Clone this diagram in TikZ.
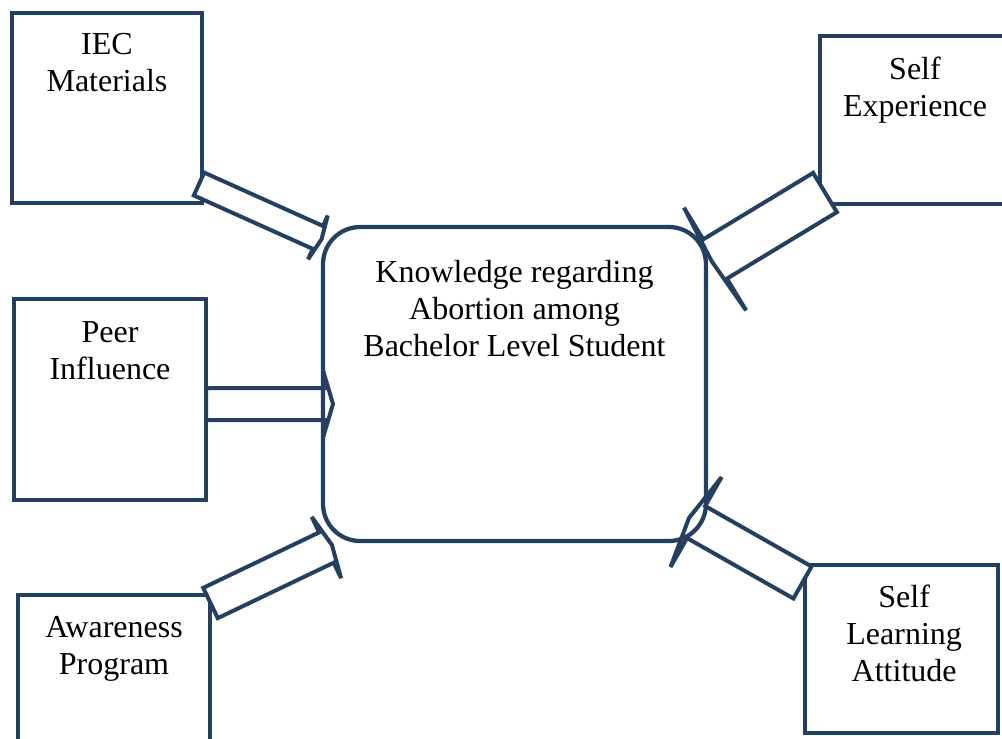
\documentclass[tikz,border=0pt]{standalone}
\usepackage{fontspec}
\setmainfont{Liberation Serif}
\usetikzlibrary{calc}

\definecolor{frame}{HTML}{243F60}

\tikzset{
  factor/.style = {draw=frame, line width=1.6pt, minimum width=72pt, minimum height=71.25pt, inner sep=0pt},
  caption/.style = {align=center, inner sep=0pt, anchor=base, font=\fontsize{12}{13.875}\selectfont},
  % hollow block arrow: #1 half shaft, #2 half head, #3 head length
  feed/.style n args = {3}{draw=frame, line width=1.5pt, fill=white,
    to path={let \p1=(\tikztostart), \p2=(\tikztotarget),
      \n1={atan2(\y2-\y1,\x2-\x1)}, \n2={veclen(\x2-\x1,\y2-\y1)} in
      ([shift={(\p1)},rotate=\n1]0pt,#1) -- ([shift={(\p1)},rotate=\n1]{\n2-#3},#1)
      -- ([shift={(\p1)},rotate=\n1]{\n2-#3},#2) -- (\p2)
      -- ([shift={(\p1)},rotate=\n1]{\n2-#3},-#2) -- ([shift={(\p1)},rotate=\n1]{\n2-#3},-#1)
      -- ([shift={(\p1)},rotate=\n1]0pt,-#1) -- cycle}}
}

\begin{document}
\begin{tikzpicture}[x=0.375pt, y=-0.375pt]
  \useasboundingbox (0,0) rectangle (1002,738);

  % the five factors
  \node[factor, minimum width=71.25pt] (iec) at (107,108) {};
  \node[factor, minimum width=71.25pt, minimum height=63pt] (selfexp) at (915,120) {};
  \node[factor, minimum height=75.4pt] (peer) at (110,399.5) {};
  \node[factor] (aware) at (114,690) {};
  \node[factor, minimum width=72.4pt, minimum height=63pt] (selflearn) at (901.5,649) {};

  % arrow ends
  \coordinate (iec-out) at (199,184);
  \coordinate (iec-in) at (321.6,239.1);
  \coordinate (exp-out) at (825,192.5);
  \coordinate (exp-in) at (711.6,261.1);
  \coordinate (peer-out) at (206,404);
  \coordinate (peer-in) at (333,404);
  \coordinate (aware-out) at (210.5,603);
  \coordinate (aware-in) at (331.9,544.9);
  \coordinate (learn-out) at (802.5,582.5);
  \coordinate (learn-in) at (689,518);

  \draw[feed={4.7pt}{9pt}{1.5pt}] (iec-out) to (iec-in);
  \draw[feed={8.6pt}{22.5pt}{1.5pt}] (exp-out) to (exp-in);
  \draw[feed={6pt}{10.1pt}{3pt}] (peer-out) to (peer-in);
  \draw[feed={6.3pt}{12.75pt}{2.25pt}] (aware-out) to (aware-in);
  \draw[feed={6.9pt}{19.4pt}{3pt}] (learn-out) to (learn-in);

  % knowledge in the middle
  \node[draw=frame, line width=1.6pt, rounded corners=13.9pt, minimum width=143.6pt, minimum height=117.75pt] (core) at (514.5,384) {};

  % base anchor sits on the last line
  \node[caption] (iec-txt) at ([yshift=-30.4pt]iec.north) {IEC\\Materials};
  \node[caption] (selfexp-txt) at ([yshift=-31pt]selfexp.north) {Self\\Experience};
  \node[caption] (peer-txt) at ([yshift=-31pt]peer.north) {Peer\\Influence};
  \node[caption] (aware-txt) at ([yshift=-30.6pt]aware.north) {Awareness\\Program};
  \node[caption] (selflearn-txt) at ([xshift=1pt,yshift=-44.6pt]selflearn.north) {Self\\Learning\\Attitude};
  \node[caption] (core-txt) at ([yshift=-49.2pt]core.north) {Knowledge regarding\\Abortion among\\Bachelor Level Student};
\end{tikzpicture}
\end{document}
